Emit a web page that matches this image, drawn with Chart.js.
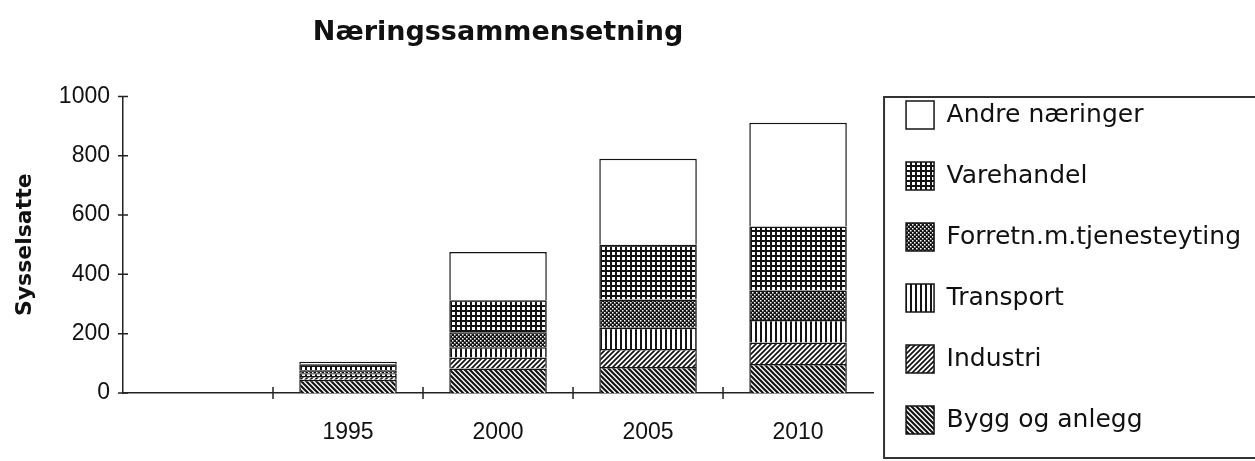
<!DOCTYPE html>
<html lang="no">
<head>
    <meta charset="UTF-8">
    <title>Næringssammensetning</title>
    <script src="https://cdn.jsdelivr.net/npm/chart.js"></script>
    <style>
        body { margin: 0; background: #fff; }
    </style>
</head>
<body>
    <canvas id="naeringChart" width="1255" height="461"></canvas>

    <script>
        // Years on the x axis (first slot is left empty)
        const years = ["", "1995", "2000", "2005", "2010"];
        const yTicks = [0, 200, 400, 600, 800, 1000];

        // Employed per industry, from the bottom of each bar upward
        const byggOgAnlegg = [null, 45, 83, 88, 98];
        const industri = [null, 12, 37, 60, 72];
        const transport = [null, 10, 34, 72, 76];
        const forretnTjenester = [null, 10, 51, 95, 100];
        const varehandel = [null, 20, 108, 185, 215];
        const andreNaeringer = [null, 8, 162, 290, 350];

        const ink = "#141414";

        // Small tiles used as hatch fills for the bars and legend boxes
        function makePattern(size, draw) {
            const tile = document.createElement("canvas");
            tile.width = tile.height = size;
            const g = tile.getContext("2d");
            g.fillStyle = "#fff";
            g.fillRect(0, 0, size, size);
            g.fillStyle = ink;
            g.strokeStyle = ink;
            draw(g, size);
            return g.createPattern(tile, "repeat");
        }

        const gridFill = makePattern(5, (g) => {
            g.fillRect(0, 0, 5, 2);
            g.fillRect(0, 0, 2, 5);
        });
        const dotFill = makePattern(4, (g) => {
            g.fillRect(0, 0, 4, 4);
            g.fillStyle = "#fff";
            g.fillRect(0, 0, 1.5, 1.5);
            g.fillRect(2, 2, 1.5, 1.5);
        });
        const stripeFill = makePattern(5, (g) => {
            g.fillRect(0, 0, 2, 5);
        });
        const slashFill = makePattern(5, (g, s) => {
            g.lineWidth = 1.7;
            g.beginPath();
            g.moveTo(-1, s + 1); g.lineTo(s + 1, -1);
            g.moveTo(-1, 1); g.lineTo(1, -1);
            g.moveTo(s - 1, s + 1); g.lineTo(s + 1, s - 1);
            g.stroke();
        });
        const backslashFill = makePattern(5, (g, s) => {
            g.lineWidth = 2.2;
            g.beginPath();
            g.moveTo(-1, -1); g.lineTo(s + 1, s + 1);
            g.moveTo(s - 1, -1); g.lineTo(s + 1, 1);
            g.moveTo(-1, s - 1); g.lineTo(1, s + 1);
            g.stroke();
        });

        // Crossing tick marks on both axes and the frame around the legend
        const axisExtras = {
            id: "axisExtras",
            afterDraw(chart) {
                const { ctx, chartArea, scales: { x, y } } = chart;
                ctx.save();
                ctx.strokeStyle = "#222";
                ctx.lineWidth = 1.5;
                ctx.beginPath();
                yTicks.forEach(v => {
                    const py = y.getPixelForValue(v);
                    ctx.moveTo(chartArea.left - 5, py);
                    ctx.lineTo(chartArea.left + 5, py);
                });
                for (let i = 1; i < years.length; i++) {
                    const px = (x.getPixelForValue(i - 1) + x.getPixelForValue(i)) / 2;
                    ctx.moveTo(px, chartArea.bottom - 6);
                    ctx.lineTo(px, chartArea.bottom + 6);
                }
                ctx.stroke();

                const boxes = chart.legend.legendHitBoxes;
                const first = boxes[0];
                const last = boxes[boxes.length - 1];
                const top = first.top - 4;
                const bottom = last.top + last.height + 24;
                ctx.lineWidth = 2;
                ctx.strokeStyle = "#333";
                ctx.strokeRect(first.left - 22, top, chart.width, bottom - top);
                ctx.restore();
            }
        };

        function barSet(label, data, fill) {
            return {
                label: label,
                data: data,
                backgroundColor: fill,
                borderColor: ink,
                borderWidth: 1.5
            };
        }

        const ctx = document.getElementById("naeringChart").getContext("2d");
        new Chart(ctx, {
            type: "bar",
            data: {
                labels: years,
                datasets: [
                    barSet("Bygg og anlegg", byggOgAnlegg, backslashFill),
                    barSet("Industri", industri, slashFill),
                    barSet("Transport", transport, stripeFill),
                    barSet("Forretn.m.tjenesteyting", forretnTjenester, dotFill),
                    barSet("Varehandel", varehandel, gridFill),
                    barSet("Andre næringer", andreNaeringer, "#fff")
                ]
            },
            options: {
                responsive: false,
                animation: false,
                devicePixelRatio: 1,
                layout: {
                    padding: { left: 0, top: 0, right: 4, bottom: -6 }
                },
                datasets: {
                    bar: { categoryPercentage: 1, barPercentage: 0.65 }
                },
                plugins: {
                    tooltip: { enabled: false },
                    title: {
                        display: true,
                        text: "Næringssammensetning",
                        fullSize: false,
                        color: "#111",
                        font: { family: "DejaVu Sans", size: 27, weight: "bold" },
                        padding: { top: 17, bottom: 47 }
                    },
                    legend: {
                        position: "right",
                        align: "end",
                        reverse: true,
                        maxWidth: 420,
                        labels: {
                            boxWidth: 28,
                            boxHeight: 28,
                            padding: 33,
                            color: "#111",
                            font: { family: "DejaVu Sans", size: 25 }
                        }
                    }
                },
                scales: {
                    x: {
                        stacked: true,
                        grid: { display: false, drawTicks: false },
                        border: { display: true, color: "#222", width: 1.5 },
                        ticks: {
                            color: "#111",
                            padding: 26,
                            maxRotation: 0,
                            font: { family: "Liberation Sans", size: 23 }
                        },
                        afterFit: scale => { scale.height = 74; }
                    },
                    y: {
                        stacked: true,
                        min: 0,
                        max: 1000,
                        grid: { display: false, drawTicks: false },
                        border: { display: true, color: "#222", width: 1.5 },
                        ticks: {
                            stepSize: 200,
                            color: "#111",
                            padding: 13,
                            font: { family: "Liberation Sans", size: 23 },
                            callback: value => String(value)
                        },
                        title: {
                            display: true,
                            text: "Sysselsatte",
                            color: "#111",
                            font: { family: "DejaVu Sans", size: 22, weight: "bold" },
                            padding: { top: 12, bottom: 0 }
                        },
                        afterFit: scale => { scale.width = 123; }
                    }
                }
            },
            plugins: [axisExtras]
        });
    </script>
</body>
</html>
